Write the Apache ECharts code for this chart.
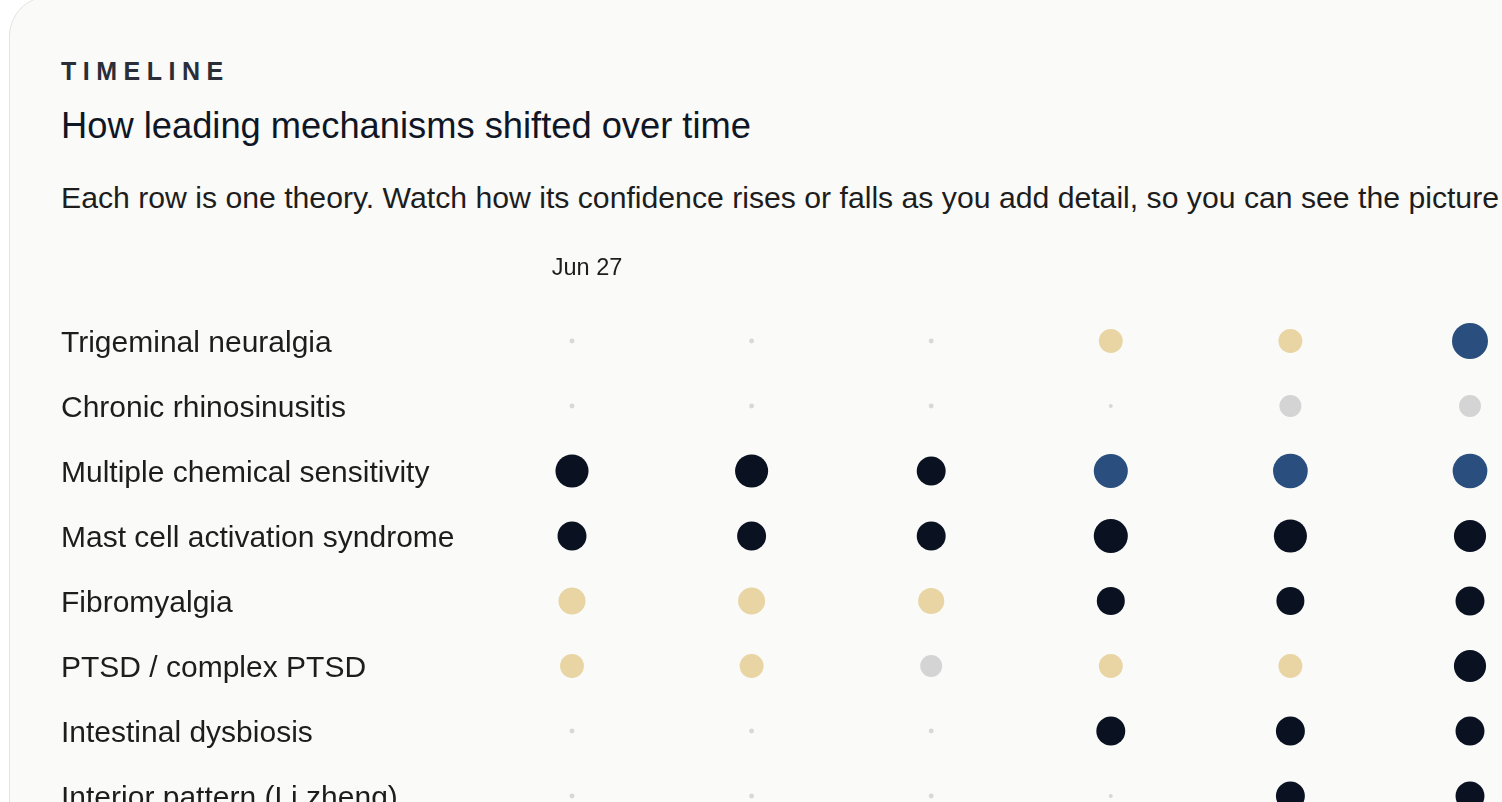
<!DOCTYPE html>
<html>
<head>
<meta charset="utf-8">
<script src="https://cdn.jsdelivr.net/npm/echarts@6/dist/echarts.min.js"></script>
<style>
  html, body { margin: 0; padding: 0; width: 1502px; height: 802px; overflow: hidden; background: #ffffff; }
  #card { position: absolute; left: 9px; top: -4px; width: 1600px; height: 900px; box-sizing: border-box;
          border: 1px solid #e3e3e1; border-radius: 40px; background: #fafaf8; }
  .t { position: absolute; left: 61px; white-space: nowrap; line-height: 1; font-family: "Liberation Sans", Arial, sans-serif; }
  #eyebrow { top: 59px; font-size: 25px; font-weight: bold; letter-spacing: 6.5px; color: #2a2e38; }
  #title { top: 108px; font-size: 36.3px; color: #0f1626; }
  #sub { top: 183px; font-size: 30.2px; color: #1d1d1d; }
  #chart { position: absolute; left: 0; top: 0; width: 1502px; height: 802px; }
</style>
</head>
<body>
<div id="card"></div>
<div class="t" id="eyebrow">TIMELINE</div>
<div class="t" id="title">How leading mechanisms shifted over time</div>
<div class="t" id="sub">Each row is one theory. Watch how its confidence rises or falls as you add detail, so you can see the picture</div>
<div id="chart"></div>
<script>
// ---- data ----
const snapshots = ['Jun 27', 'Jun 27', 'Jun 27', 'Jun 27', 'Jun 27', 'Jun 27'];
const theories = [
  'Trigeminal neuralgia',
  'Chronic rhinosinusitis',
  'Multiple chemical sensitivity',
  'Mast cell activation syndrome',
  'Fibromyalgia',
  'PTSD / complex PTSD',
  'Intestinal dysbiosis',
  'Interior pattern (Li zheng)'
];
// confidence (0-100) per snapshot
const trigeminal   = [3, 3, 3, 62, 62, 100];
const rhinosinus   = [3, 3, 3, 0, 56, 56];
const chemical     = [91, 91, 78, 94, 96, 96];
const mastCell     = [78, 78, 78, 94, 91, 88];
const fibromyalgia = [72, 72, 69, 75, 75, 78];
const ptsd         = [62, 62, 56, 62, 62, 88];
const dysbiosis    = [3, 3, 3, 78, 78, 78];
const interior     = [3, 3, 3, 0, 78, 78];
// status per snapshot: L = leading, S = supported, P = possible, U = uncertain, R = ruled out
const trigeminalStatus   = ['R', 'R', 'R', 'P', 'P', 'L'];
const rhinosinusStatus   = ['R', 'R', 'R', 'R', 'U', 'U'];
const chemicalStatus     = ['S', 'S', 'S', 'L', 'L', 'L'];
const mastCellStatus     = ['S', 'S', 'S', 'S', 'S', 'S'];
const fibromyalgiaStatus = ['P', 'P', 'P', 'S', 'S', 'S'];
const ptsdStatus         = ['P', 'P', 'U', 'P', 'P', 'S'];
const dysbiosisStatus    = ['R', 'R', 'R', 'S', 'S', 'S'];
const interiorStatus     = ['R', 'R', 'R', 'R', 'S', 'S'];

const confRows = [trigeminal, rhinosinus, chemical, mastCell, fibromyalgia, ptsd, dysbiosis, interior];
const statusRows = [trigeminalStatus, rhinosinusStatus, chemicalStatus, mastCellStatus,
                    fibromyalgiaStatus, ptsdStatus, dysbiosisStatus, interiorStatus];

const statusColors = { L: '#2a4f7f', S: '#0a1222', P: '#e8d5a3', U: '#d4d4d4', R: '#d8d8d8' };

const points = [];
confRows.forEach((row, r) => {
  row.forEach((v, c) => {
    points.push({ value: [c, r, v], itemStyle: { color: statusColors[statusRows[r][c]], opacity: 1 } });
  });
});

const chart = echarts.init(document.getElementById('chart'), null, { renderer: 'canvas' });
chart.setOption({
  backgroundColor: 'transparent',
  animation: false,
  grid: { left: 572, right: 32, top: 341, bottom: 6, containLabel: false, outerBoundsMode: 'none' },
  xAxis: {
    type: 'category',
    position: 'top',
    data: snapshots,
    boundaryGap: false,
    axisLine: { show: false },
    axisTick: { show: false },
    splitLine: { show: false },
    axisLabel: {
      margin: 60,
      interval: 0,
      fontFamily: 'Liberation Sans, Arial, sans-serif',
      fontSize: 23.5,
      color: '#1d1d1d',
      padding: [0, 0, 0, 30],
      formatter: (v, i) => (i > 0 && snapshots[i - 1] === v) ? '' : v
    }
  },
  yAxis: {
    type: 'category',
    data: theories,
    inverse: true,
    boundaryGap: false,
    axisLine: { show: false },
    axisTick: { show: false },
    splitLine: { show: false },
    axisLabel: {
      margin: 511,
      align: 'left',
      verticalAlign: 'top',
      lineHeight: 5,
      interval: 0,
      fontFamily: 'Liberation Sans, Arial, sans-serif',
      fontSize: 30,
      color: '#1d1d1d'
    }
  },
  series: [{
    type: 'scatter',
    clip: false,
    symbol: 'circle',
    symbolSize: (val) => 4 + 0.32 * val[2],
    itemStyle: { opacity: 1 },
    data: points,
    emphasis: { disabled: true }
  }]
});
</script>
</body>
</html>
